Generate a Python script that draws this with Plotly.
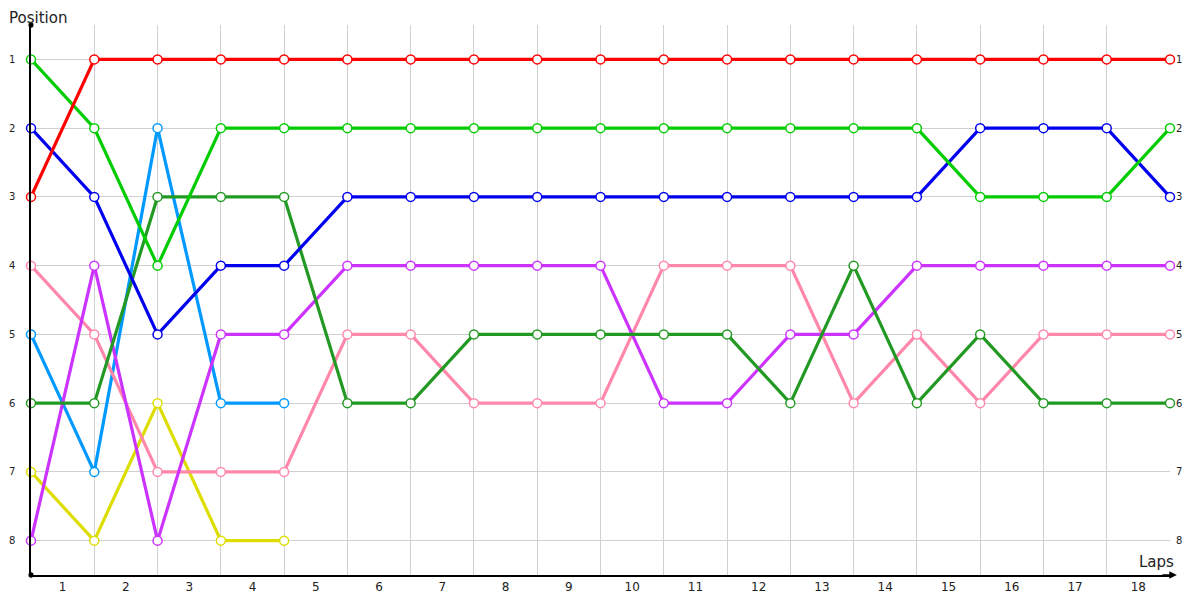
import plotly.graph_objects as go

laps = list(range(0, 19))
lap_labels = [str(i) for i in range(1, 19)]
positions = [1, 2, 3, 4, 5, 6, 7, 8]

red = [3, 1, 1, 1, 1, 1, 1, 1, 1, 1, 1, 1, 1, 1, 1, 1, 1, 1, 1]
green = [1, 2, 4, 2, 2, 2, 2, 2, 2, 2, 2, 2, 2, 2, 2, 3, 3, 3, 2]
blue = [2, 3, 5, 4, 4, 3, 3, 3, 3, 3, 3, 3, 3, 3, 3, 2, 2, 2, 3]
lightblue = [5, 7, 2, 6, 6]
darkgreen = [6, 6, 3, 3, 3, 6, 6, 5, 5, 5, 5, 5, 6, 4, 6, 5, 6, 6, 6]
purple = [8, 4, 8, 5, 5, 4, 4, 4, 4, 4, 6, 6, 5, 5, 4, 4, 4, 4, 4]
pink = [4, 5, 7, 7, 7, 5, 5, 6, 6, 6, 4, 4, 4, 6, 5, 6, 5, 5, 5]
yellow = [7, 8, 6, 8, 8]

series = [
    ("yellow", yellow, "#dddd00"),
    ("lightblue", lightblue, "#0099ff"),
    ("pink", pink, "#ff88aa"),
    ("purple", purple, "#cc33ff"),
    ("darkgreen", darkgreen, "#229922"),
    ("blue", blue, "#0000ee"),
    ("green", green, "#00cc00"),
    ("red", red, "#ff0000"),
]

fig = go.Figure()
for name, vals, col in series:
    fig.add_trace(go.Scatter(
        x=laps[:len(vals)], y=vals, mode="lines+markers", name=name,
        line=dict(color=col, width=3.2),
        marker=dict(symbol="circle", size=9, color="white", line=dict(color=col, width=1.5)),
        showlegend=False, cliponaxis=False,
    ))

# invisible trace for right axis
fig.add_trace(go.Scatter(x=[0], y=[1], yaxis="y2", mode="markers",
                         marker=dict(opacity=0), showlegend=False, hoverinfo="skip"))

# page body has an 8px margin, so the figure is sized to compensate
fig.update_layout(
    width=1192, height=592,
    margin=dict(l=23, r=30, t=17, b=25, autoexpand=False),
    plot_bgcolor="white", paper_bgcolor="white",
    font=dict(family="DejaVu Sans", color="#222"),
    xaxis=dict(
        range=[0, 18], automargin=False,
        tickvals=[i + 0.5 for i in range(18)], ticktext=lap_labels,
        showgrid=False, zeroline=False,
        ticks="", tickfont=dict(size=12, color="#222"),
        showline=True, linecolor="black", linewidth=1.5,
        minor=dict(tickvals=laps, showgrid=True, gridcolor="#d0d0d0", gridwidth=1, ticks=""),
    ),
    yaxis=dict(
        range=[8.5, 0.5], automargin=False,
        tickvals=positions, ticktext=[str(p) for p in positions],
        showgrid=True, gridcolor="#d0d0d0", gridwidth=1, zeroline=False,
        ticks="", ticklabelstandoff=12, tickfont=dict(size=10, color="#222"),
        showline=True, linecolor="black", linewidth=1.5,
    ),
    yaxis2=dict(
        range=[8.5, 0.5], automargin=False,
        tickvals=positions, ticktext=[str(p) for p in positions],
        overlaying="y", side="right", showgrid=False, zeroline=False,
        ticks="", ticklabelstandoff=5, tickfont=dict(size=10, color="#222"),
        showline=False,
    ),
    annotations=[
        dict(text="Position", xref="paper", yref="paper", x=-23 / 1139, y=1.0, yshift=17,
             xanchor="left", yanchor="top", showarrow=False, borderpad=0,
             font=dict(size=15, color="#222")),
        dict(text="Laps", xref="paper", yref="paper", x=1.005, y=0, yshift=2,
             xanchor="right", yanchor="bottom", showarrow=False,
             font=dict(size=15, color="#222")),
        dict(x=1.006, y=0, xref="paper", yref="paper", ax=-16, ay=0,
             showarrow=True, arrowhead=2, arrowsize=1, arrowwidth=1.5, arrowcolor="black", text=""),
    ],
)

fig.add_shape(type="circle", xref="paper", yref="paper", x0=-0.0022, x1=0.0022,
              y0=0.995, y1=1.005, fillcolor="black", line=dict(color="black", width=0))
fig.add_shape(type="circle", xref="paper", yref="paper", x0=-0.0022, x1=0.0022,
              y0=-0.005, y1=0.005, fillcolor="black", line=dict(color="black", width=0))

fig.write_html("out.html")
